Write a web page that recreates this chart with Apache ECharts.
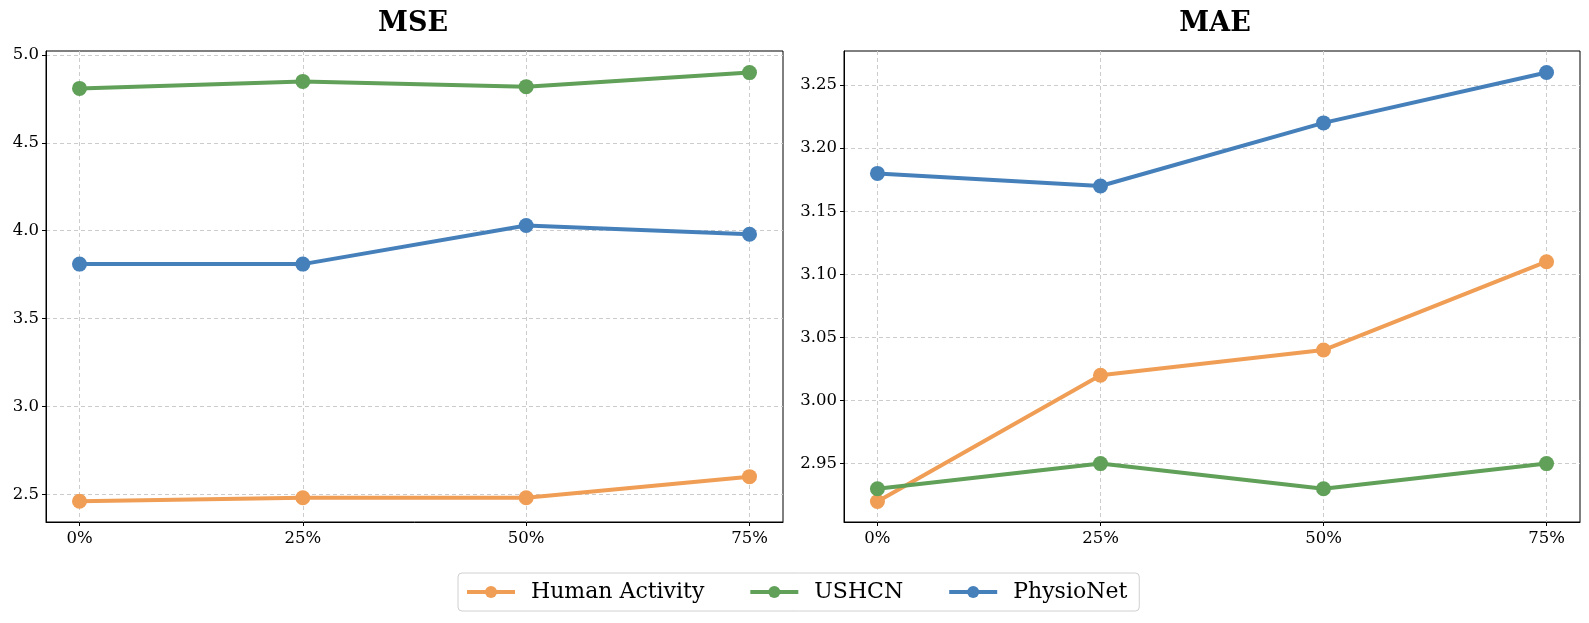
<!DOCTYPE html>
<html>
<head>
<meta charset="utf-8">
<script src="https://cdn.jsdelivr.net/npm/echarts@6/dist/echarts.min.js"></script>
<style>
  html, body { margin: 0; padding: 0; background: #fff; }
  #container { width: 1589px; height: 623px; }
</style>
</head>
<body>
<div id="container"></div>
<script>
// missing rate on the x axis
var xValues = [0, 25, 50, 75];
var seriesNames = ['Human Activity', 'USHCN', 'PhysioNet'];
var colors = ['#f09e55', '#60a058', '#4680bb'];

// MSE panel
var mseHuman = [2.46, 2.48, 2.48, 2.60];
var mseUshcn = [4.81, 4.85, 4.82, 4.90];
var msePhysio = [3.81, 3.81, 4.03, 3.98];
var mseTicks = [2.5, 3.0, 3.5, 4.0, 4.5, 5.0];

// MAE panel
var maeHuman = [2.92, 3.02, 3.04, 3.11];
var maeUshcn = [2.93, 2.95, 2.93, 2.95];
var maePhysio = [3.18, 3.17, 3.22, 3.26];
var maeTicks = [2.95, 3.00, 3.05, 3.10, 3.15, 3.20, 3.25];

var fontFamily = '"DejaVu Serif", serif';

function pairs(ys) {
    return xValues.map(function(x, i) { return [x, ys[i]]; });
}

function makeXAxis(gridIndex) {
    return {
        type: 'value',
        gridIndex: gridIndex,
        min: -3.75,
        max: 78.75,
        axisLine: {show: true, onZero: false, lineStyle: {color: '#000', width: 1}},
        axisTick: {show: true, length: 4, lineStyle: {color: '#000'}, customValues: xValues},
        axisLabel: {
            customValues: xValues,
            formatter: function(v) { return v + '%'; },
            color: '#000', fontFamily: fontFamily, fontSize: 16.5, margin: 8
        },
        splitLine: {show: true, lineStyle: {color: '#cccccc', type: [4, 3], width: 1}}
    };
}

function makeYAxis(gridIndex, min, max, ticks, digits) {
    return {
        type: 'value',
        gridIndex: gridIndex,
        min: min,
        max: max,
        axisLine: {show: true, onZero: false, lineStyle: {color: '#000', width: 1}},
        axisTick: {show: true, length: 4, lineStyle: {color: '#000'}, customValues: ticks},
        axisLabel: {
            customValues: ticks,
            formatter: function(v) { return v.toFixed(digits); },
            color: '#000', fontFamily: fontFamily, fontSize: 16.5, margin: 7
        },
        splitLine: {show: true, lineStyle: {color: '#cccccc', type: [4, 3], width: 1}}
    };
}

function makeLine(name, data, idx, panel) {
    return {
        name: name,
        type: 'line',
        xAxisIndex: panel,
        yAxisIndex: panel,
        data: pairs(data),
        symbol: 'circle',
        symbolSize: 15,
        itemStyle: {color: colors[idx]},
        lineStyle: {color: colors[idx], width: 4},
        z: 3 + idx,
        animation: false
    };
}

var dom = document.getElementById('container');
var myChart = echarts.init(dom);

var option = {
    backgroundColor: '#fff',
    animation: false,
    title: [
        {text: 'MSE', left: 408, top: 5, textAlign: 'center',
         textStyle: {fontFamily: fontFamily, fontWeight: 'bold', fontSize: 27, color: '#000'}},
        {text: 'MAE', left: 1210, top: 5, textAlign: 'center',
         textStyle: {fontFamily: fontFamily, fontWeight: 'bold', fontSize: 27, color: '#000'}}
    ],
    grid: [
        {left: 46, top: 51, width: 737, height: 471, show: true, borderColor: '#000', borderWidth: 1, backgroundColor: 'transparent'},
        {left: 844, top: 51, width: 736, height: 471, show: true, borderColor: '#000', borderWidth: 1, backgroundColor: 'transparent'}
    ],
    xAxis: [makeXAxis(0), makeXAxis(1)],
    yAxis: [
        makeYAxis(0, 2.342, 5.023, mseTicks, 1),
        makeYAxis(1, 2.9037, 3.277, maeTicks, 2)
    ],
    legend: {
        data: seriesNames,
        left: 458,
        top: 573,
        itemWidth: 48,
        itemHeight: 15,
        itemGap: 44,
        padding: [8, 12, 8, 7],
        borderColor: '#d0d0d0',
        borderWidth: 1,
        borderRadius: 4,
        lineStyle: {width: 4},
        textStyle: {fontFamily: fontFamily, fontSize: 22, color: '#000', padding: [0, 0, 0, 11]}
    },
    series: [
        makeLine(seriesNames[0], mseHuman, 0, 0),
        makeLine(seriesNames[1], mseUshcn, 1, 0),
        makeLine(seriesNames[2], msePhysio, 2, 0),
        makeLine(seriesNames[0], maeHuman, 0, 1),
        makeLine(seriesNames[1], maeUshcn, 1, 1),
        makeLine(seriesNames[2], maePhysio, 2, 1)
    ]
};

myChart.setOption(option, true);
</script>
</body>
</html>
